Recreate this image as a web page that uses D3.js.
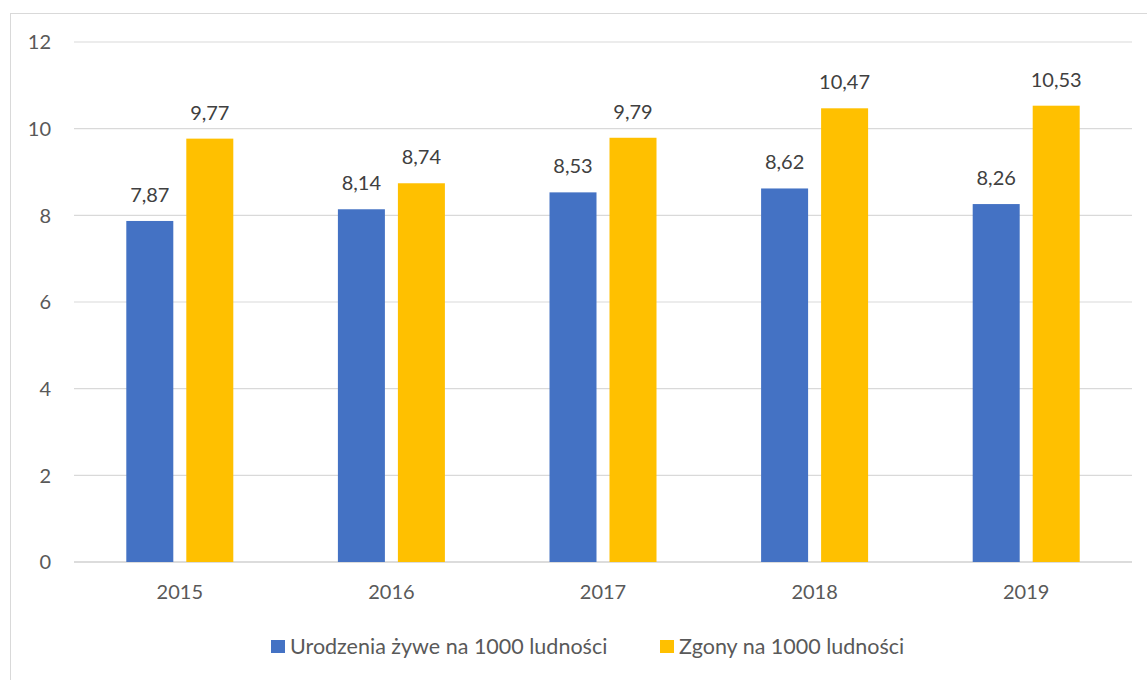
<!DOCTYPE html>
<html><head><meta charset="utf-8">
<script src="https://cdn.jsdelivr.net/npm/d3@7"></script>
<style>body{margin:0;background:#fff}svg{display:block}text{font-family:Lato,"Open Sans",sans-serif;fill:#595959}</style>
</head><body><svg id="c" width="1147" height="680"></svg>
<script>
const categories = ["2015","2016","2017","2018","2019"];
const births = [7.87, 8.14, 8.53, 8.62, 8.26];
const deaths = [9.77, 8.74, 9.79, 10.47, 10.53];
const seriesNames = ["Urodzenia żywe na 1000 ludności","Zgony na 1000 ludności"];
const colors = ["#4472C4","#FFC000"];
const yTicks = [0,2,4,6,8,10,12];

(function(){
const svg = d3.select("#c");
svg.append("rect").attr("x",10.5).attr("y",13.5).attr("width",1140).attr("height",670).attr("fill","#fff").attr("stroke","#D9D9D9");

const pL=74, pR=1132, pT=42, pB=562;
const x = d3.scaleBand().domain(categories).range([pL,pR]);
const y = d3.scaleLinear().domain([0,12]).range([pB,pT]);

svg.append("g").selectAll("line").data(yTicks).join("line")
  .attr("x1",pL).attr("x2",pR).attr("y1",d=>y(d)).attr("y2",d=>y(d))
  .attr("stroke",d=>d===0?"#D0D0D0":"#D9D9D9").attr("stroke-width",d=>d===0?1.5:1.2);
svg.append("g").selectAll("text").data(yTicks).join("text")
  .attr("x",51).attr("y",d=>y(d)).attr("dy","0.36em").attr("text-anchor","end")
  .attr("font-size",20).text(d=>d);

const barW = 47, gap = 13;
const series = [births, deaths];
series.forEach((vals,si)=>{
  const g = svg.append("g");
  const off = si===0 ? -gap/2-barW : gap/2;
  g.selectAll("rect").data(vals).join("rect")
    .attr("x",(d,i)=>x(categories[i])+x.bandwidth()/2+off)
    .attr("y",d=>y(d)).attr("width",barW).attr("height",d=>y(0)-y(d))
    .attr("fill",colors[si]);
  g.selectAll("text").data(vals).join("text")
    .attr("x",(d,i)=>x(categories[i])+x.bandwidth()/2+off+barW/2)
    .attr("y",d=>y(d)-19).attr("text-anchor","middle").attr("font-size",20)
    .style("fill","#404040")
    .text(d=>d.toFixed(2).replace(".",","));
});

svg.append("g").selectAll("text").data(categories).join("text")
  .attr("x",d=>x(d)+x.bandwidth()/2).attr("y",pB+37).attr("text-anchor","middle")
  .attr("font-size",20).text(d=>d);

const lg = svg.append("g");
const legX = [271, 660];
seriesNames.forEach((n,i)=>{
  lg.append("rect").attr("x",legX[i]).attr("y",640).attr("width",14).attr("height",13).attr("fill",colors[i]);
  lg.append("text").attr("x",legX[i]+19).attr("y",654).attr("font-size",21.5).text(n);
});
})();
</script></body></html>
